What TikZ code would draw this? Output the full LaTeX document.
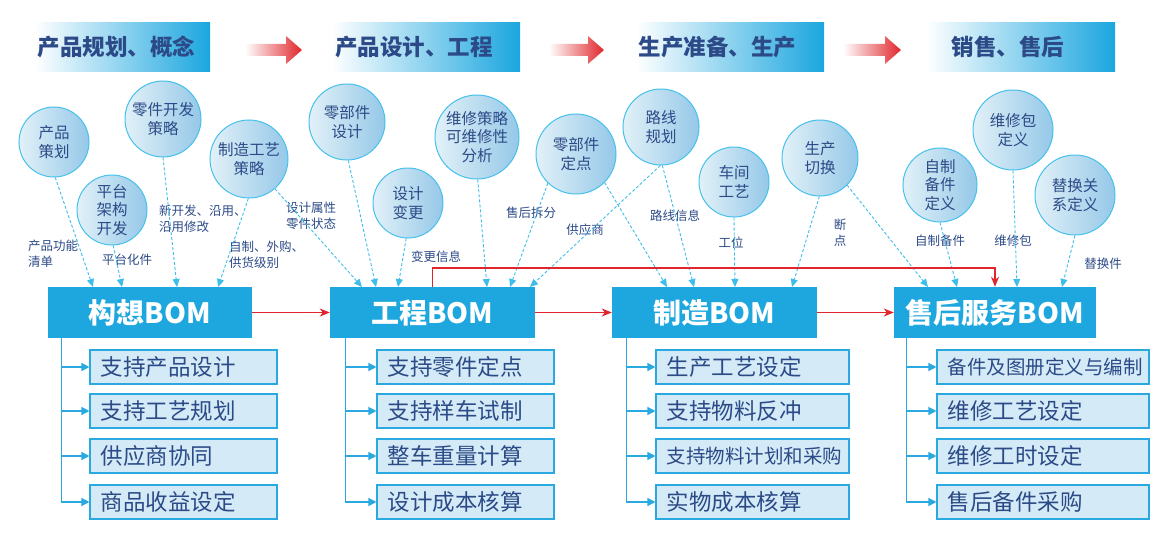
\documentclass[tikz,border=0pt]{standalone}
\usepackage{fontspec}
\setmainfont{Noto Sans CJK SC}
\usetikzlibrary{arrows.meta}
\definecolor{navy}{HTML}{2C4A87}
\definecolor{hdrblue}{HTML}{1BA6DF}
\definecolor{bomblue}{HTML}{1EA7DE}
\definecolor{lstfill}{HTML}{D4EBF7}
\definecolor{lstborder}{HTML}{2AA9E0}
\definecolor{bubL}{HTML}{E2F1F8}
\definecolor{bubR}{HTML}{95C8E8}
\definecolor{bubB}{HTML}{45C1EC}
\definecolor{dashc}{HTML}{3DBDEA}
\definecolor{arrred}{HTML}{E0262C}
\begin{document}
\begin{tikzpicture}[x=1pt,y=-1pt,
  hdrtext/.style={text=navy,font=\fontsize{22.5}{26}\selectfont\bfseries,inner sep=0},
  bub/.style={circle,draw=bubB,line width=1pt,left color=bubL,right color=bubR,text=navy,font=\fontsize{15.5}{18.5}\selectfont,align=center,inner sep=0},
  bom/.style={rectangle,fill=bomblue,text=white,font=\fontsize{28}{30}\selectfont\bfseries,minimum height=51,inner sep=0},
  lst/.style={rectangle,draw=lstborder,fill=lstfill,line width=1.1pt,text=navy,minimum height=34,inner xsep=10.5,inner ysep=0,align=left,font=\fontsize{22.5}{26}\selectfont},
  lstsmall/.style={font=\fontsize{19.5}{22}\selectfont},
  lbl/.style={text=navy,font=\fontsize{12.5}{16}\selectfont,inner sep=0,align=left},
  dashcon/.style={draw=dashc,line width=0.9pt,dash pattern=on 3pt off 2pt,-{Triangle[length=8pt,width=7pt]}},
  redcon/.style={draw=arrred,line width=1.5pt,-{Stealth[length=10pt,width=8pt,inset=3pt]}},
  lstcon/.style={draw=lstborder,line width=1.3pt,-{Triangle[length=8pt,width=8pt]}},
  hdrarrow/.style={left color=white,right color=arrred,draw=none},
]
\useasboundingbox (0,0) rectangle (1170,543);

% header bands
\shade[left color=white,right color=hdrblue] (35,23) rectangle (210,72);
\shade[left color=white,right color=hdrblue] (331,23) rectangle (520,72);
\shade[left color=white,right color=hdrblue] (636,23) rectangle (824,72);
\shade[left color=white,right color=hdrblue] (926,23) rectangle (1115,72);
\node[hdrtext] (h1) at (116.5,47) {产品规划、概念};
\node[hdrtext] (h2) at (414,47) {产品设计、工程};
\node[hdrtext] (h3) at (717.5,47) {生产准备、生产};
\node[hdrtext] (h4) at (1008,47) {销售、售后};

% header arrows
\shade[hdrarrow] (245,44) -- (286,44) -- (286,36) -- (302,50) -- (286,64) -- (286,56) -- (245,56) -- cycle;
\shade[hdrarrow] (549,44) -- (588,44) -- (588,36) -- (604,50) -- (588,64) -- (588,56) -- (549,56) -- cycle;
\shade[hdrarrow] (843,44) -- (885,44) -- (885,36) -- (901,50) -- (885,64) -- (885,56) -- (843,56) -- cycle;

% bubbles
\node[bub,minimum size=70] (b1) at (54,142) {产品\\策划};
\node[bub,minimum size=70] (b2) at (112,210) {平台\\架构\\开发};
\node[bub,minimum size=76] (b3) at (163,119) {零件开发\\策略};
\node[bub,minimum size=78] (b4) at (249,159) {制造工艺\\策略};
\node[bub,minimum size=76] (b5) at (347,122) {零部件\\设计};
\node[bub,minimum size=70] (b6) at (408,203) {设计\\变更};
\node[bub,minimum size=84] (b7) at (477,137) {维修策略\\可维修性\\分析};
\node[bub,minimum size=80] (b8) at (576,154) {零部件\\定点};
\node[bub,minimum size=76] (b9) at (661,127) {路线\\规划};
\node[bub,minimum size=70] (b10) at (734,182) {车间\\工艺};
\node[bub,minimum size=76] (b11) at (820,158) {生产\\切换};
\node[bub,minimum size=74] (b12) at (940,185) {自制\\备件\\定义};
\node[bub,minimum size=80] (b13) at (1013,130) {维修包\\定义};
\node[bub,minimum size=80] (b14) at (1075,195) {替换关\\系定义};

% labels
\node[lbl,anchor=west] (l1) at (28,253.5) {产品功能\\清单};
\node[lbl] (l2) at (127,260) {平台化件};
\node[lbl,anchor=west] (l3) at (159,219) {新开发、沿用、\\沿用修改};
\node[lbl,anchor=west] (l4) at (229,255) {自制、外购、\\供货级别};
\node[lbl,anchor=west] (l5) at (286,215.5) {设计属性\\零件状态};
\node[lbl] (l6) at (436,257) {变更信息};
\node[lbl] (l7) at (531,213) {售后拆分};
\node[lbl] (l8) at (585,230) {供应商};
\node[lbl] (l9) at (675,216) {路线信息};
\node[lbl] (l10) at (731,243) {工位};
\node[lbl,align=center] (l11) at (840,232.5) {断\\点};
\node[lbl] (l12) at (940,241) {自制备件};
\node[lbl] (l13) at (1013,241) {维修包};
\node[lbl] (l14) at (1103,264) {替换件};

% BOM boxes
\node[bom,minimum width=204] (g) at (150,312.5) {构想BOM};
\node[bom,minimum width=205] (e) at (432.5,312.5) {工程BOM};
\node[bom,minimum width=205] (m) at (714.5,312.5) {制造BOM};
\node[bom,minimum width=202] (s) at (995,312.5) {售后服务BOM};

% targets on BOM tops
\coordinate (t1) at (93,287);
\coordinate (t2) at (122,287);
\coordinate (t3) at (177,287);
\coordinate (t4) at (218,287);
\coordinate (t5) at (362,287);
\coordinate (t6) at (376,287);
\coordinate (t7) at (398,287);
\coordinate (t8) at (487,287);
\coordinate (t9) at (510,287);
\coordinate (t10) at (530,287);
\coordinate (t11) at (667,287);
\coordinate (t12) at (694,287);
\coordinate (t13) at (735,287);
\coordinate (t14) at (792,287);
\coordinate (t15) at (928,287);
\coordinate (t16) at (957,287);
\coordinate (t17) at (1017,287);
\coordinate (t18) at (1062,287);

% dashed connectors
\draw[dashcon] (b1.-88) -- (t1);
\draw[dashcon] (b2.-88) -- (t2);
\draw[dashcon] (b3.-90) -- (t3);
\draw[dashcon] (b4.-91) -- (t4);
\draw[dashcon] (b4.-49) -- (t5);
\draw[dashcon] (b5.-88) -- (t6);
\draw[dashcon] (b6.-93) -- (t7);
\draw[dashcon] (b7.-89) -- (t8);
\draw[dashcon] (b8.-134) -- (t9);
\draw[dashcon] (b9.-91) -- (t10);
\draw[dashcon] (b8.-45) -- (t11);
\draw[dashcon] (b9.-88) -- (t12);
\draw[dashcon] (b10.-90) -- (t13);
\draw[dashcon] (b11.-91) -- (t14);
\draw[dashcon] (b11.-45) -- (t15);
\draw[dashcon] (b12.-90) -- (t16);
\draw[dashcon] (b13.-90) -- (t17);
\draw[dashcon] (b14.-90) -- (t18);

% red connectors
\coordinate (rt) at (0,268);
\draw[redcon] (e.north) -- (e.north |- rt) -| (s.north);
\draw[redcon] (g) -- (e);
\draw[redcon] (e) -- (m);
\draw[redcon] (m) -- (s);

% lists
\node[lst,text width=166] (g1) at (183.5,367) {支持产品设计};
\node[lst,text width=166] (g2) at (183.5,411) {支持工艺规划};
\node[lst,text width=166] (g3) at (183.5,456) {供应商协同};
\node[lst,text width=166] (g4) at (183.5,502) {商品收益设定};

\node[lst,text width=156] (e1) at (465.5,367) {支持零件定点};
\node[lst,text width=156] (e2) at (465.5,411) {支持样车试制};
\node[lst,text width=156] (e3) at (465.5,456) {整车重量计算};
\node[lst,text width=156] (e4) at (465.5,502) {设计成本核算};

\node[lst,text width=172] (m1) at (752.5,367) {生产工艺设定};
\node[lst,text width=172] (m2) at (752.5,411) {支持物料反冲};
\node[lst,text width=172,lstsmall] (m3) at (752.5,456) {支持物料计划和采购};
\node[lst,text width=172] (m4) at (752.5,502) {实物成本核算};

\node[lst,text width=191,lstsmall] (s1) at (1043,367) {备件及图册定义与编制};
\node[lst,text width=191] (s2) at (1043,411) {维修工艺设定};
\node[lst,text width=191] (s3) at (1043,456) {维修工时设定};
\node[lst,text width=191] (s4) at (1043,502) {售后备件采购};

% list connectors
\foreach \i in {1,2,3,4} {
  \draw[lstcon] (g.south west) ++(14,0) |- (g\i.west);
  \draw[lstcon] (e.south west) ++(16,0) |- (e\i.west);
  \draw[lstcon] (m.south west) ++(15,0) |- (m\i.west);
  \draw[lstcon] (s.south west) ++(13,0) |- (s\i.west);
}
\end{tikzpicture}
\end{document}
